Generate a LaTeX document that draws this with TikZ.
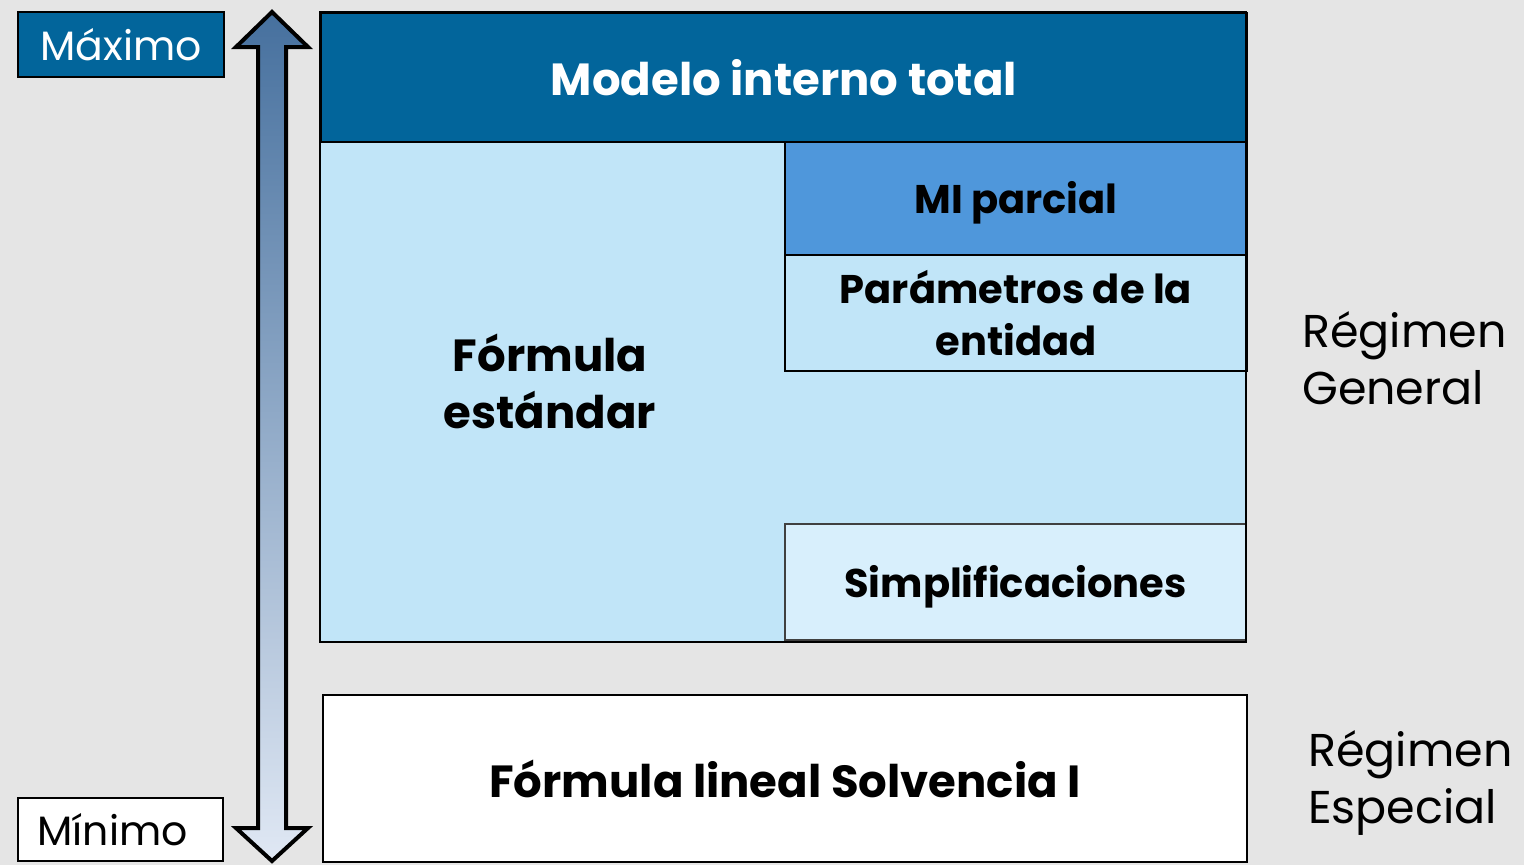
\documentclass[tikz,border=0pt]{standalone}
\usepackage{fontspec}
\setmainfont{Poppins}
\definecolor{bgc}{HTML}{E5E5E5}
\definecolor{dblue}{HTML}{02659B}
\definecolor{mblue}{HTML}{4F97DB}
\definecolor{lblue}{HTML}{C1E5F8}
\definecolor{xlblue}{HTML}{D8EFFC}
\definecolor{arrtop}{HTML}{46709E}
\definecolor{arrbot}{HTML}{E0E8F4}
\tikzset{
  box/.style={draw=black, line width=2pt, inner sep=0pt, anchor=north west, align=center},
  bigbold/.style={font=\fontsize{45}{57}\selectfont\bfseries},
  midbold/.style={font=\fontsize{40}{52}\selectfont\bfseries},
  side/.style={font=\fontsize{46}{57}\selectfont, align=left, anchor=west, inner sep=0pt},
  lab/.style={font=\fontsize{41}{46}\selectfont},
}
\begin{document}
\begin{tikzpicture}[x=1pt,y=-1pt]
\useasboundingbox (0,0) rectangle (1524,865);
\fill[bgc] (0,0) rectangle (1524,865);
% labels left
\node[box, fill=dblue, text=white, minimum width=206pt, minimum height=65pt, lab] (max) at (17,11) {Máximo};
\node[box, fill=white, minimum width=205pt, minimum height=63pt, lab, text width=205pt] (min) at (17,797) {\hspace*{-16pt}Mínimo};
% arrow
\shade[top color=arrtop, bottom color=arrbot, draw=black, line width=4pt, line join=miter]
  (272,12) -- (308,47) -- (286,47) -- (286,828) -- (308,828) -- (272,861) -- (236,828) -- (258,828) -- (258,47) -- (236,47) -- cycle;
% main block
\fill[lblue] (320,141) rectangle (1246,642);
\node[box, fill=dblue, text=white, minimum width=926pt, minimum height=129pt, bigbold] (mit) at (320,12) {Modelo interno total};
\node[box, fill=mblue, minimum width=462pt, minimum height=113pt, midbold] (mip) at (784,141) {\raisebox{-4pt}[\height][\depth]{MI parcial}};
\node[box, fill=lblue, minimum width=462pt, minimum height=116pt, midbold] (par) at (784,254) {Parámetros de la\\entidad};
\node[box, fill=xlblue, draw=black!75, minimum width=461pt, minimum height=116pt, midbold] (sim) at (784,523) {\raisebox{-5pt}[\height][\depth]{Simplificaciones}};
\node[bigbold, align=center, inner sep=0pt] (fe) at (550,381) {Fórmula\\estándar};
\draw[line width=2pt] (320,12) rectangle (1246,642);
% bottom
\node[box, fill=white, minimum width=924pt, minimum height=167pt, bigbold] (fl) at (322,694) {Fórmula lineal Solvencia I};
% right labels
\node[side] (rg) at (1302,358) {Régimen\\General};
\node[side] (re) at (1308,783) {Régimen\\Especial};
\end{tikzpicture}
\end{document}
